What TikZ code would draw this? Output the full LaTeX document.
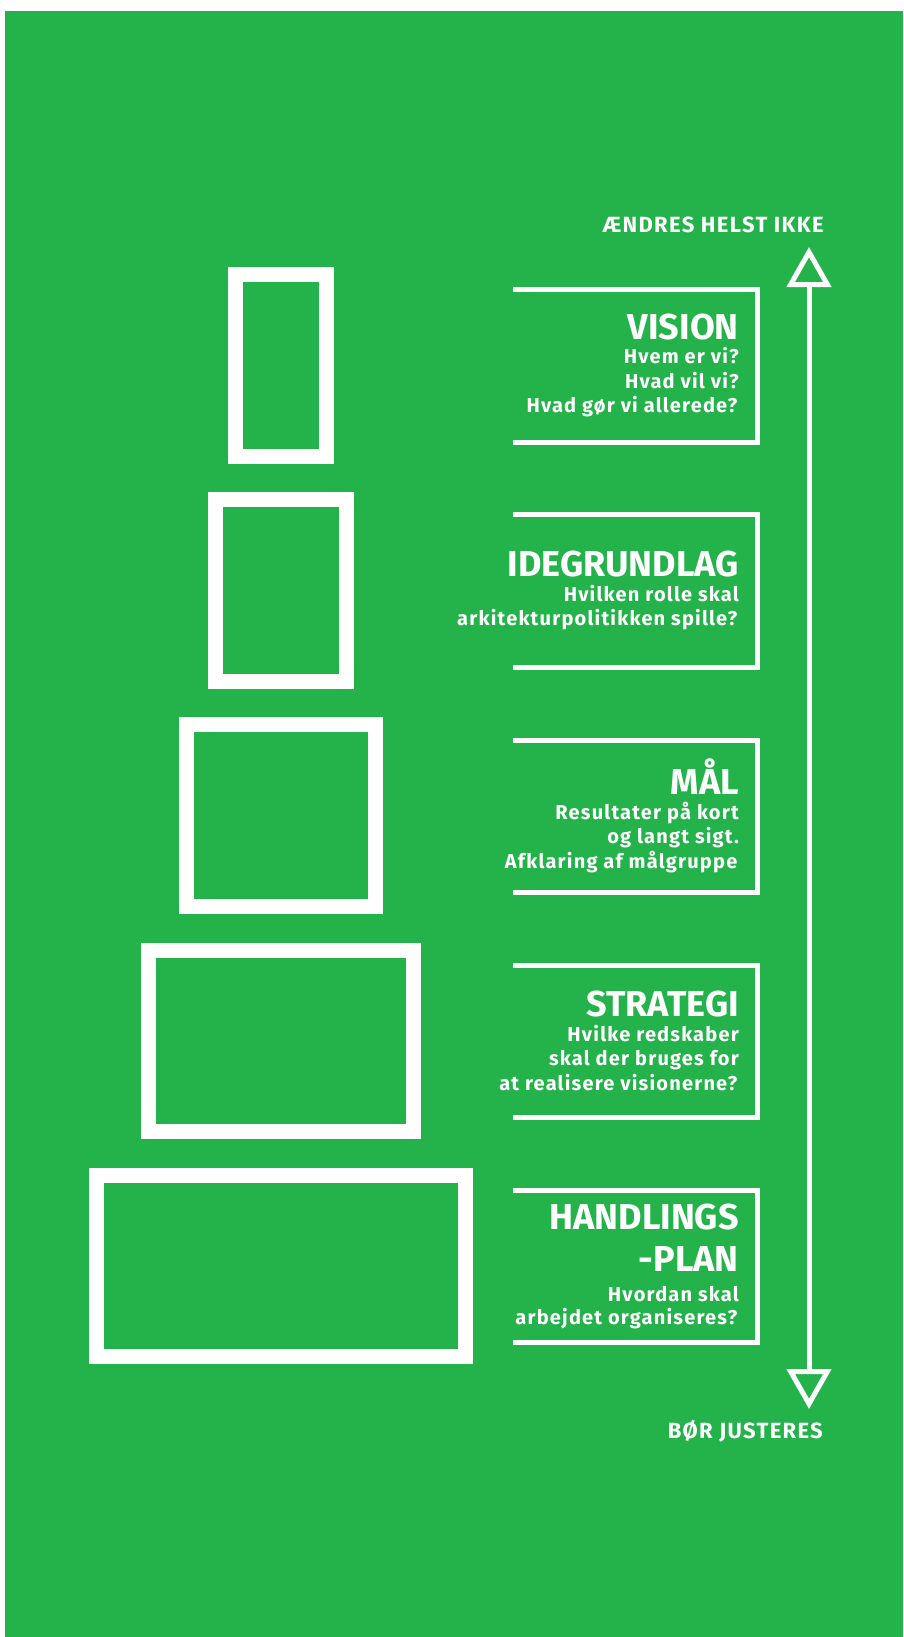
\documentclass[tikz,border=0pt]{standalone}
\usepackage{fontspec}
\setmainfont{Fira Sans}
\newfontfamily\spacedfamily{Fira Sans}[LetterSpace=6]
\usetikzlibrary{arrows.meta,positioning}
\definecolor{PlanGreen}{RGB}{36,178,75}
\newcommand{\leveltitle}[1]{{\normalfont\bfseries\fontsize{36}{36}\selectfont #1}}
\tikzset{
  levelbox/.style={draw=white, line width=15pt, inner sep=0pt,
    minimum height=181.5pt},
  bracket/.style={draw=white, line width=5pt, line join=miter},
  levelname/.style={anchor=east, align=right, text=white, inner sep=0pt,
    font=\spacedfamily\bfseries\fontsize{20}{24.5}\selectfont},
  heading/.style={anchor=base east, text=white, inner sep=0pt,
    font=\spacedfamily\bfseries\fontsize{22}{26}\selectfont},
  scalearrow/.style={{Triangle[open,length=40pt,width=44pt]}-{Triangle[open,length=40pt,width=44pt]},
    draw=white, line width=5pt}
}

\begin{document}
\begin{tikzpicture}[x=1pt, y=-1pt, node distance=28.7pt]
  \useasboundingbox (0,0) rectangle (903,1637);
  \fill[PlanGreen] (5,11) rectangle (903,1637);

  % the five levels, widest at the bottom
  \node[levelbox, minimum width=90.7pt] (visionbox) at (281,365.3) {};
  \node[levelbox, minimum width=131.2pt, below=of visionbox] (idebox) {};
  \node[levelbox, minimum width=188.7pt, below=of idebox] (maalbox) {};
  \node[levelbox, minimum width=265.7pt, below=of maalbox] (strategibox) {};
  \node[levelbox, minimum width=369.3pt, below=of strategibox] (handlingbox) {};

  \draw[bracket] (513,289.5) -| (757.5,442) -- (513,442);
  \draw[bracket] (513,514.7) -| (757.5,667.2) -- (513,667.2);
  \draw[bracket] (513,740) -| (757.5,892.5) -- (513,892.5);
  \draw[bracket] (513,965.2) -| (757.5,1117.7) -- (513,1117.7);
  \draw[bracket] (513,1190.4) -| (757.5,1342.9) -- (513,1342.9);

  \coordinate (textedge) at (739,0);
  \node[levelname] (vision) at (visionbox -| textedge) {
    \leveltitle{VISION}\\
    Hvem er vi?\hspace*{1.5pt}\\
    Hvad vil vi?\hspace*{1.5pt}\\
    Hvad gør vi allerede?\hspace*{1.5pt}
  };
  \node[levelname] (ide) at (idebox -| textedge) {
    \leveltitle{IDEGRUNDLAG}\\
    Hvilken rolle skal\hspace*{1.5pt}\\
    arkitekturpolitikken spille?\hspace*{1.5pt}
  };
  \node[levelname] (maal) at (maalbox -| textedge) {
    \leveltitle{MÅL}\\
    Resultater på kort\hspace*{1.5pt}\\
    og langt sigt.\hspace*{1.5pt}\\
    Afklaring af målgruppe\hspace*{1.5pt}
  };
  \node[levelname] (strategi) at (strategibox -| textedge) {
    \leveltitle{STRATEGI}\\
    Hvilke redskaber\hspace*{1.5pt}\\
    skal der bruges for\hspace*{1.5pt}\\
    at realisere visionerne?\hspace*{1.5pt}
  };
  \node[levelname] (handling) at (handlingbox -| textedge) {
    \leveltitle{HANDLINGS}\\[15.5pt]
    \leveltitle{-PLAN}\\[5.5pt]
    Hvordan skal\hspace*{1.5pt}\\[-1.5pt]
    arbejdet organiseres?\hspace*{1.5pt}
  };

  % scale from stable to adjustable
  \coordinate (keep) at (809,247);
  \coordinate (adjust) at (809,1409);
  \draw[scalearrow] (keep) -- (adjust);
  \node[heading] (keeplabel) at (824,233) {ÆNDRES HELST IKKE};
  \node[heading] (adjustlabel) at (823,1438) {BØR JUSTERES};
\end{tikzpicture}
\end{document}
